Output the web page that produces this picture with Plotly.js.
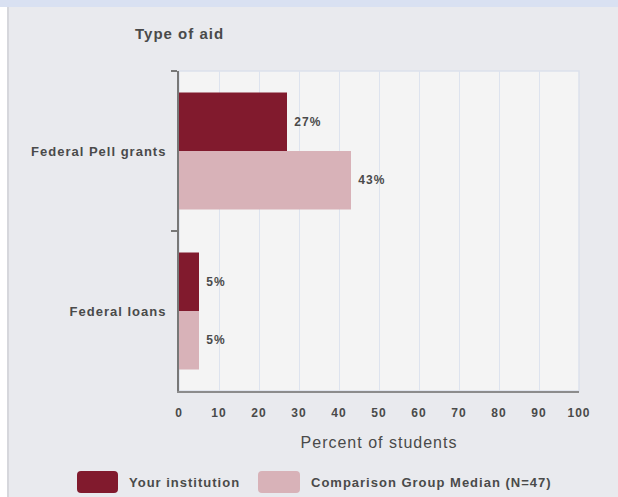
<!DOCTYPE html>
<html>
<head>
<meta charset="utf-8">
<script src="https://cdn.plot.ly/plotly-3.0.1.min.js"></script>
<style>
  html, body { margin: 0; padding: 0; background: #ffffff; width: 618px; height: 497px; overflow: hidden; }
  #band { position: absolute; left: 0; top: 0; width: 618px; height: 7px; background: #d9e1f2; }
  #edge { position: absolute; left: 7px; top: 7px; width: 2px; height: 490px; background: #d6d7dc; }
  #chart { position: absolute; left: 9px; top: 7px; width: 609px; height: 490px; }
  text { letter-spacing: 1px; }
</style>
</head>
<body>
<div id="band"></div>
<div id="edge"></div>
<div id="chart"></div>
<script>
// ---- data ----
const categories = ["Federal Pell grants", "Federal loans"];
const seriesNames = ["Your institution", "Comparison Group Median (N=47)"];
const yourInstitution = [27, 5];
const comparisonMedian = [43, 5];
const xTickValues = [0, 10, 20, 30, 40, 50, 60, 70, 80, 90, 100];

// ---- styles ----
const colors = ["#811a2d", "#d8b2b8"];
const FAM = "Liberation Sans, Arial, sans-serif";
const TXT = "#4a4a4a";

const W = 609, H = 490;
const M = {l: 170, r: 39, t: 64, b: 106};
const plotW = W - M.l - M.r, plotH = H - M.t - M.b;
// convert container pixels to paper coords
const px = cx => (cx - M.l) / plotW;
const py = cy => (H - M.b - cy) / plotH;

const seriesValues = [yourInstitution, comparisonMedian];
const traces = seriesValues.map((vals, i) => ({
  type: "bar",
  orientation: "h",
  name: seriesNames[i],
  y: categories,
  x: vals,
  marker: {color: colors[i], line: {width: 0}},
  text: vals.map(v => v + "%"),
  texttemplate: "\u00a0%{text}",
  textposition: "outside",
  textfont: {family: FAM, size: 12, color: TXT, weight: "bold"},
  cliponaxis: false,
  hoverinfo: "skip",
  showlegend: false
}));

// custom legend (rounded swatches + labels)
function roundRect(x0, y0, x1, y1, r) {
  const X = v => px(v), Y = v => py(v);
  return `M ${X(x0 + r)} ${Y(y0)} L ${X(x1 - r)} ${Y(y0)} Q ${X(x1)} ${Y(y0)} ${X(x1)} ${Y(y0 + r)} ` +
         `L ${X(x1)} ${Y(y1 - r)} Q ${X(x1)} ${Y(y1)} ${X(x1 - r)} ${Y(y1)} L ${X(x0 + r)} ${Y(y1)} ` +
         `Q ${X(x0)} ${Y(y1)} ${X(x0)} ${Y(y1 - r)} L ${X(x0)} ${Y(y0 + r)} Q ${X(x0)} ${Y(y0)} ${X(x0 + r)} ${Y(y0)} Z`;
}
const legendItems = [
  {sx0: 68, sx1: 109, tx: 118},
  {sx0: 249, sx1: 291, tx: 300}
];
const legY0 = 464, legY1 = 486;
const shapes = [];
const annotations = [];
legendItems.forEach((it, i) => {
  shapes.push({
    type: "path", xref: "paper", yref: "paper",
    path: roundRect(it.sx0, legY0, it.sx1, legY1, 4),
    fillcolor: colors[i], line: {width: 0}, layer: "above"
  });
  annotations.push({
    xref: "paper", yref: "paper", x: px(it.tx), y: py((legY0 + legY1) / 2),
    xanchor: "left", yanchor: "middle", showarrow: false,
    text: seriesNames[i],
    font: {family: FAM, size: 13, color: TXT, weight: "bold"}
  });
});
// light frame on top/right of plot area
shapes.push({
  type: "rect", xref: "paper", yref: "paper", x0: 0, x1: 1, y0: 0, y1: 1,
  line: {color: "#dbe1eb", width: 1.5}, fillcolor: "rgba(0,0,0,0)", layer: "below"
});

const layout = {
  width: W, height: H,
  margin: M,
  paper_bgcolor: "#e9eaee",
  plot_bgcolor: "#f4f4f4",
  barmode: "group",
  bargap: 0.27,
  bargroupgap: 0,
  showlegend: false,
  title: {
    text: "Type of aid",
    xref: "container", yref: "container",
    x: (135 - 9) / W, xanchor: "left",
    y: 1 - 27 / H, yanchor: "middle",
    font: {family: FAM, size: 15, color: TXT, weight: "bold"}
  },
  xaxis: {
    range: [0, 100],
    tickvals: xTickValues,
    ticktext: xTickValues.map(String),
    ticks: "",
    showgrid: true,
    gridcolor: "#dde3ee",
    gridwidth: 1,
    zeroline: false,
    showline: true,
    linecolor: "#8c8c8c",
    linewidth: 2,
    tickfont: {family: FAM, size: 12, color: TXT, weight: "bold"},
    ticklabelstandoff: 10,
    fixedrange: true,
    title: {
      text: "Percent of students",
      standoff: 17,
      font: {family: FAM, size: 16, color: TXT}
    }
  },
  yaxis: {
    type: "category",
    autorange: "reversed",
    tickson: "boundaries",
    ticks: "outside",
    ticklen: 6,
    tickcolor: "#777777",
    tickwidth: 1.5,
    showline: true,
    linecolor: "#777777",
    linewidth: 2,
    showgrid: false,
    zeroline: false,
    tickfont: {family: FAM, size: 13, color: TXT, weight: "bold"},
    ticklabelstandoff: 8,
    fixedrange: true
  },
  shapes: shapes,
  annotations: annotations
};

Plotly.newPlot("chart", traces, layout, {displayModeBar: false, staticPlot: true});
</script>
</body>
</html>
